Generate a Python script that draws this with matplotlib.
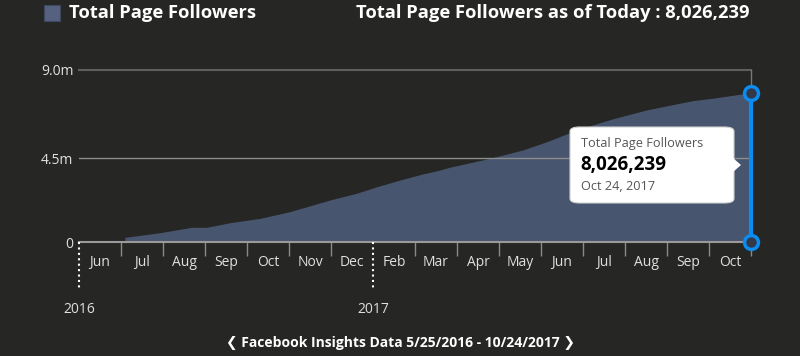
import matplotlib.pyplot as plt
from matplotlib.patches import FancyBboxPatch, Polygon

# chart data (x is the month slot on the axis, followers in millions)
slot_x = [1.09, 1.095, 1.93, 2.68, 3.04, 3.60, 4.31, 5.02, 5.98, 6.61, 7.09, 7.64, 8.19,
          8.60, 8.83, 9.79, 10.57, 11.14, 11.69, 12.17, 12.71, 13.52, 14.62, 15.10, 16.0]
followers_m = [0.0, 0.25, 0.50, 0.79, 0.79, 1.04, 1.27, 1.63, 2.26, 2.62, 2.97, 3.33, 3.66,
               3.87, 4.02, 4.50, 4.95, 5.39, 5.88, 6.25, 6.62, 7.10, 7.60, 7.73, 8.026239]
month_labels = ["Jun", "Jul", "Aug", "Sep", "Oct", "Nov", "Dec", "Feb",
                "Mar", "Apr", "May", "Jun", "Jul", "Aug", "Sep", "Oct"]
years = {"2016": 0, "2017": 7}
y_ticks = [0, 4.5, 9.27]
y_labels = ["0", "4.5m", "9.0m"]
latest = 8026239
latest_date = "Oct 24, 2017"
date_range = "5/25/2016 - 10/24/2017"

bg = "#262624"
area_col = "#47556e"
blue = "#0a8cf0"

plt.rcParams['font.family'] = ['Open Sans', 'DejaVu Sans']

fig = plt.figure(figsize=(8, 3.56), dpi=100)
fig.patch.set_facecolor(bg)
ax = fig.add_axes([79/800, 1-242/356, 672/800, (242-69.5)/356])
ax.set_facecolor(bg)

ax.fill_between(slot_x, followers_m, 0, color=area_col, lw=0, zorder=1)
ax.set_xlim(0, 16)
ax.set_ylim(0, y_ticks[-1])

# grid lines on top of the area
ax.axhline(4.5, color="#8c8c8c", lw=1, zorder=2)
ax.axhline(y_ticks[-1], color="#5e5e5e", lw=1.5, zorder=2, clip_on=False)
ax.axhline(0, color="#9a9a9a", lw=1.5, zorder=2, clip_on=False)
for s in ax.spines.values():
    s.set_visible(False)
ax.plot([16, 16], [0, y_ticks[-1]], color="#777777", lw=1, zorder=2, clip_on=False)

ax.set_yticks(y_ticks)
ax.set_yticklabels(y_labels)
ax.tick_params(axis="y", length=0, pad=4, labelcolor="#e0e0e0", labelsize=10)

# month ticks, labels between them
tick_pos = [i for i in range(1, 17) if i not in years.values()]
ax.set_xticks(tick_pos)
ax.set_xticklabels([])
ax.tick_params(axis="x", length=10, width=1, color="#8a8a8a", direction="out")
for i, m in enumerate(month_labels):
    ax.text(i + 0.5, -0.12, m, transform=ax.get_xaxis_transform(), ha="center", va="center",
            color="#e0e0e0", fontsize=10)
for yr, pos in years.items():
    ax.plot([pos, pos], [0, -0.28], transform=ax.get_xaxis_transform(), color="white",
            lw=1.5, ls=(0, (1, 1.6)), clip_on=False, zorder=3)
    ax.text(pos, -0.39, yr, transform=ax.get_xaxis_transform(), ha="center", va="center",
            color="#e0e0e0", fontsize=10)

# highlight of the latest value
ax.plot([16, 16], [0, followers_m[-1]], color=blue, lw=3, zorder=4, clip_on=False)
ax.plot([16, 16], [0, followers_m[-1]], 'o', ms=10, mfc="#34394a", mec=blue, mew=2.5,
        zorder=5, clip_on=False)

# tooltip
box = FancyBboxPatch((570/800, 1-203/356), 164/800, 76/356, boxstyle="round,pad=0,rounding_size=0.012",
                     transform=fig.transFigure, fc="white", ec="#d0d0d0", lw=0.8, zorder=10)
fig.patches.append(box)
tri = Polygon([(733/800, 1-158/356), (741/800, 1-165/356), (733/800, 1-172/356)],
              closed=True, transform=fig.transFigure, fc="white", ec="none", zorder=11)
fig.patches.append(tri)
fig.text(581/800, 1-144/356, "Total Page Followers", color="#555555", fontsize=9.2, va="center", zorder=12)
fig.text(580/800, 1-165/356, f"{latest:,}", color="black", fontsize=13.5, fontweight="bold",
         va="center", zorder=12)
fig.text(581/800, 1-186/356, latest_date, color="#555555", fontsize=9.2, va="center", zorder=12)

# header
fig.patches.append(plt.Rectangle((44/800, 1-21/356), 16/800, 16/356, transform=fig.transFigure,
                                 fc="#55617f", ec="#3e4860", lw=0.8))
fig.text(69/800, 1-13/356, "Total Page Followers", color="white", fontsize=13.2,
         fontweight="bold", va="center")
fig.text(750/800, 1-13/356, f"Total Page Followers as of Today : {latest:,}", color="white",
         fontsize=13.2, fontweight="bold", va="center", ha="right")

fig.text(400/800, 1-343/356, f"❮ Facebook Insights Data {date_range} ❯", color="white",
         fontsize=10, fontweight="bold", ha="center", va="center")

fig.savefig("out.png", dpi=100, facecolor=bg)
